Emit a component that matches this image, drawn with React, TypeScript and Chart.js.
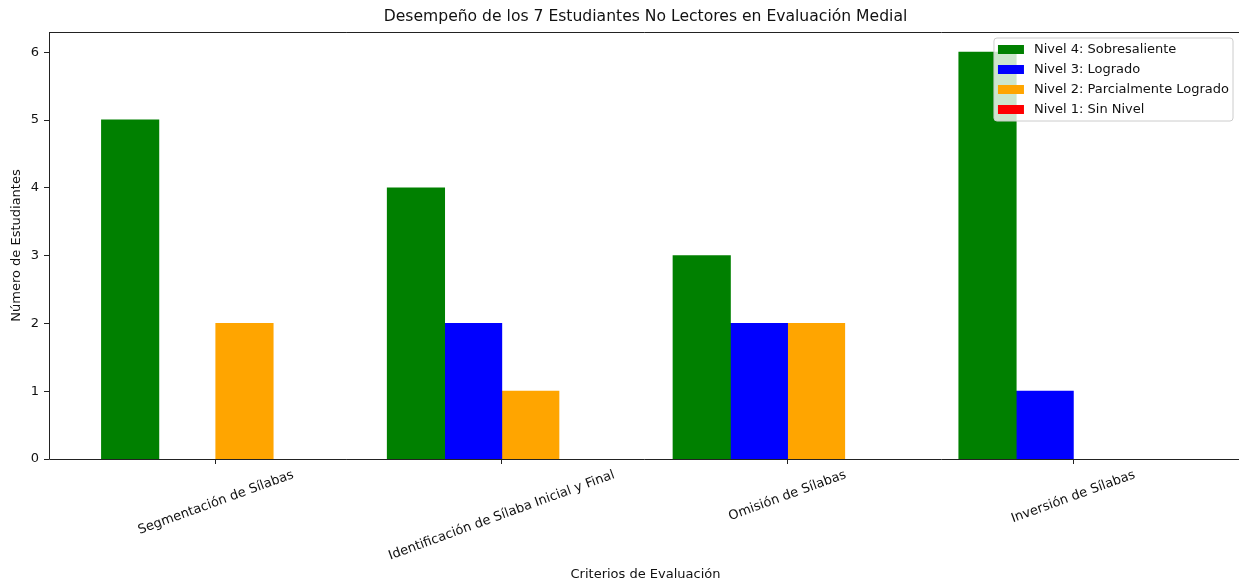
import { useEffect, useRef } from "react";
import { Chart, registerables } from "chart.js";

Chart.register(...registerables);

const categories = [
  "Segmentación de Sílabas",
  "Identificación de Sílaba Inicial y Final",
  "Omisión de Sílabas",
  "Inversión de Sílabas",
];
const nivel4 = [5, 4, 3, 6];
const nivel3 = [0, 2, 2, 1];
const nivel2 = [2, 1, 2, 0];
const nivel1 = [0, 0, 0, 0];
const seriesLabels = [
  "Nivel 4: Sobresaliente",
  "Nivel 3: Logrado",
  "Nivel 2: Parcialmente Logrado",
  "Nivel 1: Sin Nivel",
];
const seriesColors = ["#008000", "#0000ff", "#ffa500", "#ff0000"];
const yTicks = [0, 1, 2, 3, 4, 5, 6];
const chartTitle = "Desempeño de los 7 Estudiantes No Lectores en Evaluación Medial";
const xTitle = "Criterios de Evaluación";
const yTitle = "Número de Estudiantes";

const FONT = '"DejaVu Sans", sans-serif';
const W = 1239;
const H = 584;

const decorPlugin = {
  id: "decor",
  afterDraw(chart: any) {
    const ctx = chart.ctx as CanvasRenderingContext2D;
    const { left, top, right, bottom } = chart.chartArea;
    const xs = chart.scales.x;
    ctx.save();
    // spines
    ctx.strokeStyle = "#222";
    ctx.lineWidth = 1;
    ctx.beginPath();
    ctx.moveTo(left + 0.5, top + 0.5);
    ctx.lineTo(right, top + 0.5);
    ctx.moveTo(left + 0.5, top);
    ctx.lineTo(left + 0.5, bottom + 0.5);
    ctx.lineTo(right, bottom + 0.5);
    ctx.stroke();

    ctx.fillStyle = "#111";
    const axisCenterX = (left + right + 3) / 2;
    // title
    ctx.font = `15.6px ${FONT}`;
    ctx.textAlign = "center";
    ctx.textBaseline = "middle";
    ctx.fillText(chartTitle, axisCenterX, 17);

    // x tick labels rotated 20deg, centered on ticks
    ctx.font = `13px ${FONT}`;
    const ang = (20 * Math.PI) / 180;
    categories.forEach((c, i) => {
      const x = xs.getPixelForValue(i);
      const L = ctx.measureText(c).width;
      const h = 15;
      const bh = L * Math.sin(ang) + h * Math.cos(ang);
      const cy = bottom + 8.5 + bh / 2;
      ctx.save();
      ctx.translate(x, cy);
      ctx.rotate(-ang);
      ctx.fillText(c, 0, 0);
      ctx.restore();
    });

    // x title
    ctx.fillText(xTitle, axisCenterX, 575);

    // y title
    ctx.save();
    ctx.translate(17, (top + bottom) / 2);
    ctx.rotate(-Math.PI / 2);
    ctx.fillText(yTitle, 0, 0);
    ctx.restore();

    // legend
    ctx.font = `13px ${FONT}`;
    const maxT = Math.max(...seriesLabels.map((s) => ctx.measureText(s).width));
    const boxW = 4 + 26 + 10 + maxT + 4;
    const boxR = 1233;
    const boxL = boxR - boxW;
    const boxT = 38;
    const boxB = 121;
    const r = 3;
    ctx.beginPath();
    ctx.moveTo(boxL + r, boxT);
    ctx.lineTo(boxR - r, boxT);
    ctx.arcTo(boxR, boxT, boxR, boxT + r, r);
    ctx.lineTo(boxR, boxB - r);
    ctx.arcTo(boxR, boxB, boxR - r, boxB, r);
    ctx.lineTo(boxL + r, boxB);
    ctx.arcTo(boxL, boxB, boxL, boxB - r, r);
    ctx.lineTo(boxL, boxT + r);
    ctx.arcTo(boxL, boxT, boxL + r, boxT, r);
    ctx.closePath();
    ctx.fillStyle = "rgba(255,255,255,0.8)";
    ctx.fill();
    ctx.strokeStyle = "#cccccc";
    ctx.lineWidth = 1;
    ctx.stroke();
    ctx.textAlign = "left";
    seriesLabels.forEach((s, i) => {
      const cy = 49.5 + i * 20;
      ctx.fillStyle = seriesColors[i];
      ctx.fillRect(boxL + 4, cy - 4.5, 26, 9);
      ctx.fillStyle = "#111";
      ctx.fillText(s, boxL + 40, cy);
    });
    ctx.restore();
  },
};

export default function App() {
  const ref = useRef<HTMLCanvasElement | null>(null);
  useEffect(() => {
    document.body.style.margin = "0";
    const canvas = ref.current!;
    const series = [nivel4, nivel3, nivel2, nivel1];
    const chart = new Chart(canvas, {
      type: "bar",
      data: {
        datasets: series.map((vals, k) => ({
          label: seriesLabels[k],
          data: vals.map((v, i) => ({ x: i, y: v })),
          backgroundColor: seriesColors[k],
          borderWidth: 0,
          inflateAmount: (c: any) => (c.raw && c.raw.y > 0 ? 0.5 : 0),
          categoryPercentage: 0.8,
          barPercentage: 1.0,
        })),
      },
      options: {
        animation: false,
        responsive: false,
        devicePixelRatio: 1,
        layout: { padding: { top: 32, right: 0, left: 0, bottom: 0 } },
        plugins: {
          legend: { display: false },
          title: { display: false },
          tooltip: { enabled: false },
        },
        scales: {
          x: {
            type: "linear",
            min: -0.584,
            max: 3.58,
            offset: false,
            grid: { offset: false, drawOnChartArea: false, drawTicks: true, tickLength: 5, color: "#222" },
            border: { display: false },
            ticks: { display: false },
            afterBuildTicks: (s: any) => {
              s.ticks = categories.map((_, i) => ({ value: i }));
            },
            afterFit: (s: any) => {
              s.height = 125;
            },
          },
          y: {
            min: 0,
            max: 6.3,
            grid: { drawOnChartArea: false, drawTicks: true, tickLength: 5, color: "#222" },
            border: { display: false },
            ticks: {
              font: { family: FONT, size: 13 },
              color: "#111",
              padding: 5,
            },
            afterBuildTicks: (s: any) => {
              s.ticks = yTicks.map((v) => ({ value: v }));
            },
            afterFit: (s: any) => {
              s.width = 49;
            },
          },
        },
      } as any,
      plugins: [decorPlugin],
    });
    return () => chart.destroy();
  }, []);
  return (
    <div style={{ position: "absolute", left: 0, top: 0, width: W, height: H, background: "#fff" }}>
      <canvas ref={ref} width={W} height={H} style={{ display: "block" }} />
    </div>
  );
}
